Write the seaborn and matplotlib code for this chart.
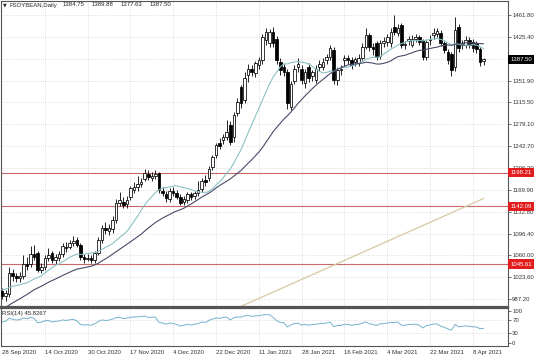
import numpy as np
import pandas as pd
import matplotlib
matplotlib.use("Agg")
import matplotlib.pyplot as plt
import seaborn as sns

# Daily soybean candles, 28 Sep 2020 .. 13 Apr 2021
opens = [1000, 992, 996, 1030, 1025, 1022, 1025, 1045, 1045, 1062,
         1064, 1036, 1040, 1056, 1064, 1052, 1055, 1062, 1074, 1074,
         1080, 1086, 1078, 1057, 1054, 1056, 1052, 1064, 1085, 1105,
         1100, 1104, 1120, 1148, 1150, 1146, 1157, 1170, 1174, 1180,
         1188, 1196, 1190, 1193, 1198, 1168, 1163, 1155, 1168, 1164,
         1158, 1150, 1153, 1162, 1160, 1165, 1171, 1186, 1190, 1207,
         1227, 1247, 1252, 1258, 1278, 1257, 1298, 1341, 1319, 1362,
         1372, 1364, 1378, 1386, 1419, 1414, 1433, 1421, 1383, 1374,
         1366, 1308, 1352, 1374, 1372, 1348, 1374, 1360, 1353, 1374,
         1374, 1386, 1391, 1403, 1353, 1369, 1386, 1389, 1386, 1383,
         1381, 1390, 1408, 1428, 1408, 1414, 1393, 1414, 1416, 1414,
         1441, 1432, 1444, 1411, 1418, 1412, 1422, 1424, 1419, 1391,
         1419, 1428, 1430, 1431, 1414, 1400, 1397, 1374, 1441, 1414,
         1411, 1419, 1416, 1414, 1405, 1384.75]
highs = [1006, 1002, 1040, 1038, 1031, 1033, 1060, 1058, 1076, 1077,
         1068, 1048, 1060, 1072, 1068, 1062, 1068, 1080, 1082, 1086,
         1092, 1090, 1080, 1062, 1062, 1060, 1068, 1090, 1110, 1116,
         1112, 1126, 1155, 1166, 1158, 1160, 1176, 1182, 1192, 1190,
         1205, 1202, 1200, 1202, 1200, 1174, 1168, 1172, 1174, 1170,
         1162, 1160, 1166, 1166, 1168, 1184, 1190, 1194, 1210, 1228,
         1248, 1256, 1262, 1286, 1285, 1300, 1322, 1344, 1366, 1380,
         1378, 1384, 1392, 1430, 1440, 1438, 1442, 1426, 1390, 1380,
         1372, 1352, 1378, 1390, 1378, 1372, 1382, 1370, 1378, 1386,
         1390, 1396, 1412, 1408, 1374, 1378, 1394, 1395, 1392, 1392,
         1396, 1414, 1440, 1432, 1414, 1418, 1420, 1424, 1430, 1440,
         1461, 1446, 1448, 1418, 1426, 1428, 1430, 1428, 1422, 1420,
         1428, 1440, 1440, 1436, 1418, 1404, 1400, 1458, 1446, 1420,
         1426, 1424, 1422, 1418, 1408, 1389.88]
lows = [988, 984, 990, 1018, 1016, 1015, 1020, 1036, 1040, 1052,
        1032, 1030, 1035, 1050, 1047, 1046, 1050, 1058, 1066, 1070,
        1076, 1074, 1052, 1048, 1050, 1047, 1048, 1060, 1080, 1096,
        1094, 1098, 1115, 1142, 1140, 1140, 1152, 1164, 1168, 1174,
        1184, 1186, 1184, 1188, 1165, 1160, 1150, 1150, 1160, 1154,
        1144, 1144, 1148, 1152, 1154, 1160, 1166, 1176, 1184, 1202,
        1222, 1238, 1246, 1252, 1244, 1250, 1292, 1306, 1314, 1350,
        1360, 1358, 1372, 1380, 1412, 1408, 1408, 1380, 1362, 1360,
        1305, 1302, 1346, 1366, 1346, 1340, 1350, 1352, 1348, 1368,
        1370, 1380, 1386, 1346, 1344, 1362, 1376, 1380, 1372, 1376,
        1376, 1386, 1404, 1402, 1394, 1386, 1388, 1408, 1410, 1408,
        1428, 1426, 1406, 1404, 1412, 1408, 1416, 1412, 1386, 1386,
        1412, 1422, 1424, 1410, 1398, 1380, 1360, 1368, 1400, 1404,
        1406, 1406, 1400, 1398, 1376, 1377.63]
closes = [993, 998, 1030, 1025, 1022, 1026, 1045, 1042, 1062, 1058,
          1035, 1040, 1056, 1060, 1052, 1058, 1062, 1075, 1072, 1080,
          1084, 1078, 1057, 1054, 1056, 1053, 1064, 1085, 1105, 1102,
          1106, 1120, 1147, 1152, 1145, 1152, 1172, 1174, 1180, 1183,
          1198, 1191, 1193, 1196, 1169, 1164, 1156, 1168, 1165, 1158,
          1148, 1155, 1162, 1157, 1164, 1170, 1185, 1182, 1205, 1224,
          1244, 1242, 1258, 1266, 1249, 1294, 1316, 1314, 1357, 1372,
          1366, 1381, 1386, 1424, 1433, 1433, 1414, 1386, 1369, 1366,
          1314, 1347, 1372, 1380, 1353, 1366, 1356, 1366, 1372, 1380,
          1383, 1391, 1406, 1353, 1369, 1372, 1390, 1386, 1378, 1388,
          1390, 1408, 1428, 1408, 1404, 1391, 1414, 1418, 1425, 1433,
          1433, 1440, 1411, 1413, 1421, 1422, 1424, 1416, 1391, 1416,
          1422, 1432, 1434, 1414, 1403, 1386, 1369, 1436, 1406, 1411,
          1419, 1411, 1407, 1405, 1383, 1387.50]
# closes before the visible window, only used to warm up the indicators
prior_closes = [905, 910, 908, 915, 920, 926, 932, 938, 942, 940,
                948, 952, 958, 962, 968, 972, 978, 985, 990, 996,
                1002, 1010, 1018, 1025, 1018, 1010, 1004, 998, 992, 996]

date_labels = ["28 Sep 2020", "14 Oct 2020", "30 Oct 2020", "17 Nov 2020",
               "4 Dec 2020", "22 Dec 2020", "11 Jan 2021", "28 Jan 2021",
               "16 Feb 2021", "4 Mar 2021", "22 Mar 2021", "8 Apr 2021"]
price_ticks = [987.20, 1023.60, 1060.00, 1096.40, 1132.80, 1169.90, 1206.30,
               1242.70, 1279.10, 1315.50, 1351.90, 1388.70, 1425.40, 1461.80]
hidden_tick = 1388.70   # sits under the current price box
levels = [1198.21, 1142.09, 1045.61]
trend_idx = [67, 135]
trend_val = [975, 1155]
title_values = ["1384.75", "1389.88", "1377.63", "1387.50"]
rsi_text = "RSI(14) 45.8267"

# ---- indicators
all_close = pd.Series(prior_closes + closes, dtype=float)
ma_fast = all_close.rolling(14).mean().iloc[-len(closes):].to_numpy()
ma_slow = all_close.rolling(30).mean().iloc[-len(closes):].to_numpy()
delta = all_close.diff()
gain = delta.clip(lower=0).ewm(alpha=1 / 14, adjust=False).mean()
loss = (-delta.clip(upper=0)).ewm(alpha=1 / 14, adjust=False).mean()
rsi = (100 - 100 / (1 + gain / loss)).iloc[-len(closes):].to_numpy()

idx = np.arange(len(closes))
o, h, l, c = map(np.array, (opens, highs, lows, closes))

sns.set_style("white")
plt.rcParams['font.family'] = ['Liberation Sans', 'DejaVu Sans']

W, H = 536, 357
fig = plt.figure(figsize=(W / 100, H / 100), dpi=100)
ax = fig.add_axes([1 / W, 1 - 306.5 / H, 507 / W, 305.5 / H])
ax_r = fig.add_axes([1 / W, 1 - 346 / H, 507 / W, 38.5 / H])

grid_kw = dict(color='#c4c4c4', lw=0.5, ls=(0, (1, 2)), zorder=0)
date_ticks = idx[::12]
for a in (ax, ax_r):
    for t in date_ticks[1:]:
        a.axvline(t, **grid_kw)
for v in price_ticks:
    ax.axhline(v, **grid_kw)
for v in (30, 70):
    ax_r.axhline(v, **grid_kw)

# level lines and trend line
for v in levels:
    ax.axhline(v, color='#c96a6a', lw=0.8, zorder=1)
sns.lineplot(x=trend_idx, y=trend_val, ax=ax, color='#d8c8a4', lw=0.9, zorder=1)

# candles
up = c >= o
ax.vlines(idx, l, h, color='black', lw=0.6, zorder=2)
ax.bar(idx, np.maximum(np.abs(c - o), 0.8), bottom=np.minimum(o, c), width=0.72,
       color=np.where(up, 'white', 'black'), edgecolor='black', linewidth=0.55, zorder=3)

sns.lineplot(x=idx, y=ma_fast, ax=ax, color='#8cc3c3', lw=0.8, zorder=4)
sns.lineplot(x=idx, y=ma_slow, ax=ax, color='#4a4a68', lw=0.8, zorder=4)
sns.lineplot(x=idx, y=rsi, ax=ax_r, color='#74b2cc', lw=0.7)

xlim = (-0.28, 141.86)
ax.set_xlim(xlim)
ax_r.set_xlim(xlim)
ax.set_ylim(974.8, 1484.7)
ax_r.set_ylim(-10.3, 110)

fs = 4.3
ax.yaxis.tick_right()
ax.set_yticks(price_ticks)
ax.set_yticklabels(["" if v == hidden_tick else f"{v:.2f}" for v in price_ticks])
ax.set_xticks([])
ax.tick_params(axis='y', labelsize=fs, length=2, width=0.5, pad=1, colors='#333333')
ax_r.yaxis.tick_right()
ax_r.set_yticks([0, 30, 70, 100])
ax_r.set_yticklabels(["0", "30", "70", "100"])
ax_r.set_xticks(date_ticks)
ax_r.set_xticklabels(date_labels, ha='left')
ax_r.tick_params(labelsize=fs, length=2, width=0.5, pad=1, colors='#333333')
for a in (ax, ax_r):
    a.set_xlabel("")
    a.set_ylabel("")
    for s in a.spines.values():
        s.set_color('#555555')
        s.set_linewidth(0.8)
ax.spines['bottom'].set_linewidth(1.6)
ax_r.spines['top'].set_linewidth(1.6)

# price boxes on the right scale
def price_box(v, face):
    ax.annotate(f"{v:.2f}", xy=(1, v), xycoords=('axes fraction', 'data'),
                xytext=(1.5, 0), textcoords='offset points', ha='left', va='center',
                fontsize=fs, color='white', annotation_clip=False, zorder=10,
                bbox=dict(boxstyle='square,pad=0.35', facecolor=face, edgecolor='none'))

for v in levels:
    price_box(v, '#e11d1d')
price_box(closes[-1], 'black')

# header texts
fig.text(3 / W, 1 - 5 / H, "\u25bc", fontsize=3.5, va='center', ha='left',
         family=['DejaVu Sans'])
fig.text(9 / W, 1 - 5 / H, "FSOYBEAN,Daily", fontsize=fs, va='center', ha='left')
for k, s in enumerate(title_values):
    fig.text((63 + 29 * k) / W, 1 - 5 / H, s, fontsize=fs, va='center', ha='left')
fig.text(2 / W, 1 - 313 / H, rsi_text, fontsize=fs, va='center', ha='left')

fig.savefig("out.png", dpi=100)
